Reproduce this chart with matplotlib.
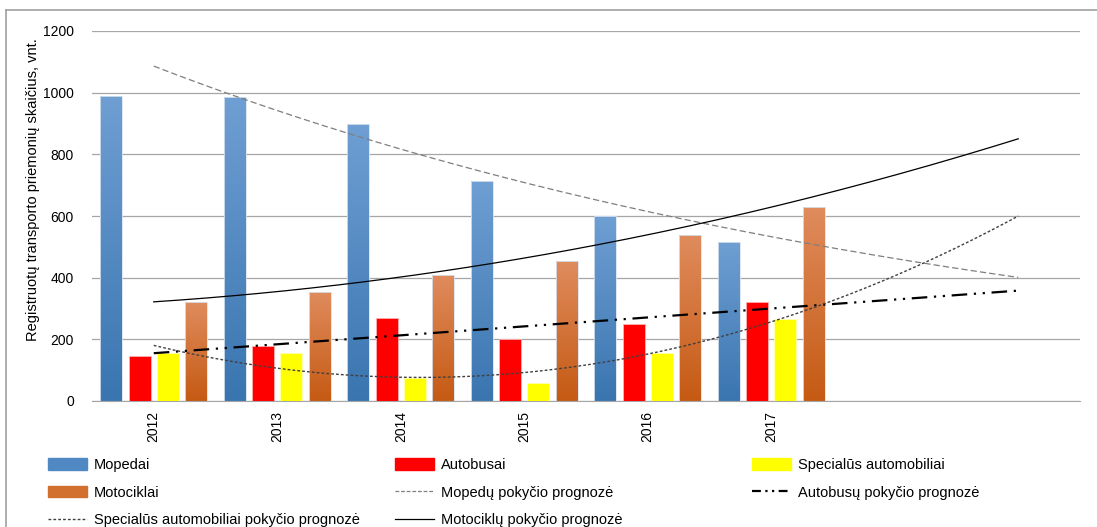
from __future__ import annotations

import matplotlib

matplotlib.use("Agg")
import matplotlib.pyplot as plt
import numpy as np
from matplotlib.colors import LinearSegmentedColormap
from matplotlib.lines import Line2D
from matplotlib.patches import Patch

plt.rcParams["font.family"] = ["Liberation Sans", "DejaVu Sans"]

YEARS = ["2012", "2013", "2014", "2015", "2016", "2017"]
N_FORECAST = 2  # trendlines run two periods past the data

MOPEDAI = [990, 985, 900, 715, 600, 515]
AUTOBUSAI = [145, 180, 270, 200, 250, 320]
SPECIALUS = [155, 155, 75, 60, 155, 265]
MOTOCIKLAI = [320, 355, 410, 455, 540, 630]

BAR_LABELS = ["Mopedai", "Autobusai", "Specialūs automobiliai", "Motociklai"]
TREND_LABELS = {
    "mopedai": "Mopedų pokyčio prognozė",
    "autobusai": "Autobusų pokyčio prognozė",
    "specialus": "Specialūs automobiliai pokyčio prognozė",
    "motociklai": "Motociklų pokyčio prognozė",
}
Y_LABEL = "Registruotų transporto priemonių skaičius, vnt."

BLUE = ("#6f9fd3", "#3a75b0")
ORANGE = ("#e08c5e", "#c55a13")
RED = "#ff0000"
YELLOW = "#ffff00"
GRID = "#a6a6a6"


def gradient_bars(ax, xs, heights, width, colors):
    cmap = LinearSegmentedColormap.from_list("g", [colors[1], colors[0]])
    grad = np.linspace(0, 1, 256).reshape(-1, 1)
    bars = ax.bar(xs, heights, width, color="none", edgecolor="#d8e3f0", linewidth=0.6, zorder=3)
    for bar in bars:
        x0, w, h = bar.get_x(), bar.get_width(), bar.get_height()
        im = ax.imshow(grad, cmap=cmap, origin="lower", aspect="auto",
                       extent=(x0, x0 + w, 0, h), zorder=2)
        im.set_clip_path(bar)
    return bars


def trend(values, n_total, kind):
    x = np.arange(1, len(values) + 1)
    xs = np.linspace(1, n_total, 200)
    y = np.asarray(values, dtype=float)
    if kind == "exp":
        b, a = np.polyfit(x, np.log(y), 1)
        return xs - 1, np.exp(a + b * xs)
    deg = 1 if kind == "lin" else 2
    return xs - 1, np.polyval(np.polyfit(x, y, deg), xs)


def main() -> None:
    fig = plt.figure(figsize=(10.97, 5.27), dpi=100)
    ax = fig.add_axes((92 / 1097, 1 - 401 / 527, 988 / 1097, 370 / 527))

    n_total = len(YEARS) + N_FORECAST
    x = np.arange(len(YEARS))
    step, width = 0.229, 0.178

    gradient_bars(ax, x - 1.5 * step, MOPEDAI, width, BLUE)
    ax.bar(x - 0.5 * step, AUTOBUSAI, width, color=RED, edgecolor="#ffb0b0", linewidth=0.6, zorder=3)
    ax.bar(x + 0.5 * step, SPECIALUS, width, color=YELLOW, edgecolor="#ffffb0", linewidth=0.6, zorder=3)
    gradient_bars(ax, x + 1.5 * step, MOTOCIKLAI, width, ORANGE)

    tx, ty = trend(MOPEDAI, n_total, "exp")
    ax.plot(tx, ty, color="#7f7f7f", lw=0.9, dashes=(5, 2.5), zorder=4)
    tx, ty = trend(AUTOBUSAI, n_total, "lin")
    ax.plot(tx, ty, color="black", lw=1.6, dashes=(7, 3, 1, 3, 1, 3), zorder=4)
    tx, ty = trend(SPECIALUS, n_total, "poly")
    ax.plot(tx, ty, color="#404040", lw=1.0, dashes=(2, 1.5), zorder=4)
    tx, ty = trend(MOTOCIKLAI, n_total, "poly")
    ax.plot(tx, ty, color="black", lw=0.9, zorder=4)

    ax.set_xlim(-0.5, n_total - 0.5)
    ax.set_ylim(0, 1200)
    ax.set_yticks(np.arange(0, 1201, 200))
    ax.set_xticks(x)
    ax.set_xticklabels(YEARS, rotation=90, fontsize=10)
    ax.tick_params(axis="both", length=0, labelsize=10)
    ax.tick_params(axis="x", pad=7)
    ax.tick_params(axis="y", pad=13)
    ax.grid(axis="y", color=GRID, lw=0.9, zorder=0)
    ax.set_axisbelow(True)
    for side in ("left", "top", "right"):
        ax.spines[side].set_visible(False)
    ax.spines["bottom"].set_color(GRID)
    ax.set_ylabel(Y_LABEL, fontsize=10.5)
    ax.yaxis.set_label_coords(-0.053, 0.57)

    # legend in three columns placed like the original
    h_mop = Patch(facecolor="#4f88c2", edgecolor="#4f88c2")
    h_mot = Patch(facecolor="#d27030", edgecolor="#d27030")
    h_aut = Patch(facecolor=RED, edgecolor=RED)
    h_spe = Patch(facecolor=YELLOW, edgecolor=YELLOW)
    l_mop = Line2D([], [], color="#7f7f7f", lw=0.9, dashes=(3, 1.5))
    l_aut = Line2D([], [], color="black", lw=1.6, dashes=(4, 2, 1, 2, 1, 2))
    l_spe = Line2D([], [], color="#404040", lw=1.0, dashes=(2, 1.5))
    l_mot = Line2D([], [], color="black", lw=0.9)

    columns = [
        (48, [h_mop, h_mot, l_spe], [BAR_LABELS[0], BAR_LABELS[3], TREND_LABELS["specialus"]]),
        (395, [h_aut, l_mop, l_mot], [BAR_LABELS[1], TREND_LABELS["mopedai"], TREND_LABELS["motociklai"]]),
        (752, [h_spe, l_aut], [BAR_LABELS[2], TREND_LABELS["autobusai"]]),
    ]
    for left, handles, labels in columns:
        fig.legend(handles, labels, loc="upper left", bbox_to_anchor=(left / 1097, 1 - 458 / 527),
                   frameon=False, fontsize=10.5, handlelength=2.7, handleheight=0.85,
                   handletextpad=0.45, labelspacing=0.93, borderpad=0, borderaxespad=0)

    # outer chart frame (cropped on the right and bottom)
    fig.add_artist(Line2D([6 / 1097, 6 / 1097], [0, 1 - 10 / 527], color="#a0a0a0", lw=1.2))
    fig.add_artist(Line2D([6 / 1097, 1], [1 - 10 / 527, 1 - 10 / 527], color="#a0a0a0", lw=1.2))

    fig.savefig("out.png", dpi=100)
    plt.close(fig)


if __name__ == "__main__":
    main()
